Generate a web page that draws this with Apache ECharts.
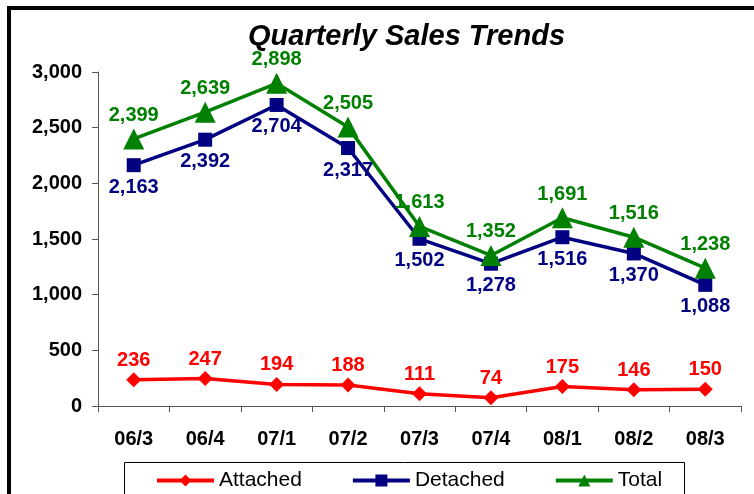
<!DOCTYPE html>
<html>
<head>
<meta charset="utf-8">
<script src="https://cdn.jsdelivr.net/npm/echarts@6/dist/echarts.min.js"></script>
<style>
html,body{margin:0;padding:0;background:#fff;}
#chart{width:754px;height:494px;}
</style>
</head>
<body>
<div id="chart"></div>
<script>
// 数据
var quarters = ['06/3', '06/4', '07/1', '07/2', '07/3', '07/4', '08/1', '08/2', '08/3'];
var attached = [236, 247, 194, 188, 111, 74, 175, 146, 150];
var detached = [2163, 2392, 2704, 2317, 1502, 1278, 1516, 1370, 1088];
var total = [2399, 2639, 2898, 2505, 1613, 1352, 1691, 1516, 1238];
var yTicks = [0, 500, 1000, 1500, 2000, 2500, 3000];

var fontName = '"Liberation Sans", Arial, sans-serif';

// 千分位
function fmt(v) {
    return String(v).replace(/\B(?=(\d{3})+(?!\d))/g, ',');
}

function makeSeries(name, data, color, symbol, size, pos, dist) {
    return {
        name: name,
        type: 'line',
        data: data,
        symbol: symbol,
        symbolSize: size,
        lineStyle: { color: color, width: 3.5 },
        itemStyle: { color: color },
        label: {
            show: true,
            position: pos,
            distance: dist,
            color: color,
            fontFamily: fontName,
            fontWeight: 'bold',
            fontSize: 20,
            formatter: function (p) { return fmt(p.value); }
        }
    };
}

var myChart = echarts.init(document.getElementById('chart'));

var option = {
    backgroundColor: '#fff',
    animation: false,
    title: {
        text: 'Quarterly Sales Trends',
        left: 243,
        top: 17,
        textStyle: {
            fontFamily: fontName,
            fontSize: 29,
            fontWeight: 'bold',
            fontStyle: 'italic',
            color: '#000'
        }
    },
    graphic: [
        // 外框（右侧和底部被裁掉）
        { type: 'rect', shape: { x: 9, y: 8, width: 800, height: 600 },
          style: { fill: 'none', stroke: '#000', lineWidth: 4 } },
        // 图例框
        { type: 'rect', shape: { x: 124.5, y: 462.5, width: 560, height: 60 },
          style: { fill: '#fff', stroke: '#000', lineWidth: 1 }, z: 0 }
    ],
    legend: {
        left: 150,
        top: 465,
        itemWidth: 57,
        itemHeight: 15,
        itemGap: 49,
        lineStyle: { width: 4 },
        textStyle: { fontFamily: fontName, fontSize: 21, color: '#000' },
        data: ['Attached', 'Detached', 'Total'],
        z: 5
    },
    grid: { left: 98, right: 13, top: 72, bottom: 88 },
    xAxis: {
        type: 'category',
        data: quarters,
        axisLine: { lineStyle: { color: '#555', width: 1 } },
        axisTick: { show: true, inside: false, length: 6, lineStyle: { color: '#555' } },
        axisLabel: {
            margin: 23,
            color: '#000',
            fontFamily: fontName,
            fontWeight: 'bold',
            fontSize: 20
        }
    },
    yAxis: {
        type: 'value',
        min: yTicks[0],
        max: yTicks[yTicks.length - 1],
        interval: 500,
        splitLine: { show: false },
        axisLine: { show: true, lineStyle: { color: '#555', width: 1 } },
        axisTick: { show: true, length: 6, lineStyle: { color: '#555' } },
        axisLabel: {
            margin: 16,
            color: '#000',
            fontFamily: fontName,
            fontWeight: 'bold',
            fontSize: 20,
            formatter: function (v) { return fmt(v); }
        }
    },
    series: [
        makeSeries('Attached', attached, '#ff0000', 'diamond', 15, 'top', 2),
        makeSeries('Detached', detached, '#000080', 'rect', 14, 'bottom', 5),
        makeSeries('Total', total, '#008000', 'triangle', 21, 'top', 3)
    ]
};

myChart.setOption(option);
</script>
</body>
</html>
